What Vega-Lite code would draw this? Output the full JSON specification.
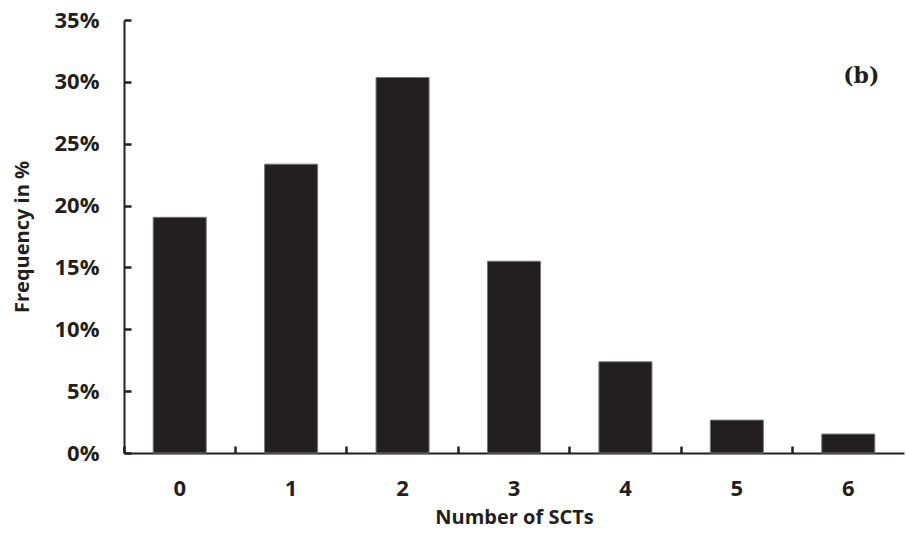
{
  "$schema": "https://vega.github.io/schema/vega-lite/v6.json",
  "width": 780,
  "height": 433,
  "autosize": {"type": "none"},
  "padding": {"left": 124, "top": 20, "right": 2, "bottom": 82},
  "background": "white",
  "config": {
    "view": {"stroke": null},
    "axis": {"grid": false, "labelFont": "Open Sans", "titleFont": "Open Sans", "labelFontWeight": "bold", "titleFontWeight": "bold", "labelColor": "#231f20", "titleColor": "#231f20", "domainColor": "#231f20", "tickColor": "#231f20", "domainWidth": 2, "tickWidth": 2.5}
  },
  "layer": [
    {
      "data": {"values": [
        {"n": "0", "freq": 0.1905},
        {"n": "1", "freq": 0.2335},
        {"n": "2", "freq": 0.3035},
        {"n": "3", "freq": 0.155},
        {"n": "4", "freq": 0.0737},
        {"n": "5", "freq": 0.0266},
        {"n": "6", "freq": 0.0153}
      ]},
      "mark": {"type": "bar", "color": "#231f20", "stroke": "#777777", "strokeWidth": 1},
      "encoding": {
        "x": {
          "field": "n", "type": "ordinal", "sort": null,
          "scale": {"paddingInner": 0.524, "paddingOuter": 0.262},
          "axis": {"title": "Number of SCTs", "labelAngle": 0, "labelFontSize": 22, "titleFontSize": 20, "bandPosition": -0.5504, "tickSize": -7, "labelPadding": 32, "titlePadding": 8}
        },
        "y": {
          "field": "freq", "type": "quantitative",
          "scale": {"domain": [0, 0.35], "nice": false},
          "axis": {"title": "Frequency in %", "format": ".0%", "values": [0, 0.05, 0.1, 0.15, 0.2, 0.25, 0.3, 0.35], "labelFontSize": 22, "titleFontSize": 20, "tickSize": -7, "labelPadding": 32, "titlePadding": 22}
        }
      }
    },
    {
      "data": {"values": [{"n": "6", "freq": 0.305, "label": "(b)"}]},
      "mark": {"type": "text", "font": "DejaVu Serif", "fontWeight": "bold", "fontSize": 22, "color": "#231f20", "align": "center", "baseline": "middle", "dx": 13},
      "encoding": {
        "x": {"field": "n", "type": "ordinal"},
        "y": {"field": "freq", "type": "quantitative"},
        "text": {"field": "label"}
      }
    }
  ]
}
